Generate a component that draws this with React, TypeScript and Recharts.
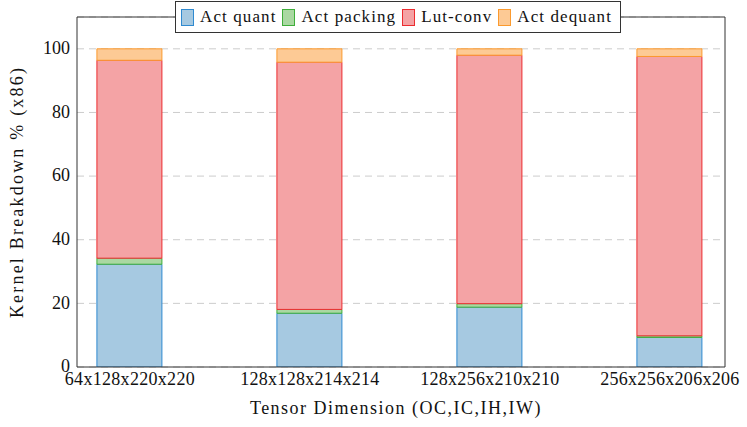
import {
  Bar,
  BarChart,
  CartesianGrid,
  ReferenceLine,
  XAxis,
  YAxis,
} from "recharts";

const dims = [
  "64x128x220x220",
  "128x128x214x214",
  "128x256x210x210",
  "256x256x206x206",
];
const actQuant = [32.3, 16.9, 18.8, 9.3];
const actPacking = [1.9, 1.2, 1.1, 0.5];
const lutConv = [62.2, 77.7, 78.1, 87.8];
const actDequant = [3.6, 4.2, 2.0, 2.4];

const series = [
  { key: "quant", name: "Act quant", fill: "#a6c9e1", stroke: "#2f8ad0" },
  { key: "packing", name: "Act packing", fill: "#aad8a2", stroke: "#3fae3a" },
  { key: "lut", name: "Lut-conv", fill: "#f4a3a5", stroke: "#ec2c30" },
  { key: "dequant", name: "Act dequant", fill: "#fdca95", stroke: "#fb9a2e" },
];

const data = dims.map((d, i) => ({
  x: i,
  dim: d,
  quant: actQuant[i],
  packing: actPacking[i],
  lut: lutConv[i],
  dequant: actDequant[i],
}));

const X_MIN = -0.294;
const X_MAX = 3.306;
const Y_MAX = 110;
const FONT = "'Liberation Serif', serif";

const LegendBox = () => (
  <div
    style={{
      position: "absolute",
      left: 175,
      top: 1,
      width: 446,
      height: 32,
      display: "flex",
      alignItems: "center",
      background: "#fff",
      border: "1px solid #333",
      padding: "0 0 0 5px",
      fontFamily: FONT,
      fontSize: 17,
      letterSpacing: 1.1,
      color: "#111",
      boxSizing: "border-box",
    }}
  >
    {series.map((s) => (
      <div
        key={s.key}
        style={{ display: "flex", alignItems: "center", marginRight: 6 }}
      >
        <span
          style={{
            width: 11,
            height: 15,
            background: s.fill,
            border: `1px solid ${s.stroke}`,
            marginRight: 6,
            display: "inline-block",
          }}
        />
        <span>{s.name}</span>
      </div>
    ))}
  </div>
);

const YLabel = (props: any) => {
  const vb = props.viewBox;
  const cx = 17;
  const cy = vb.y + vb.height / 2;
  return (
    <text
      x={cx}
      y={cy}
      transform={`rotate(-90, ${cx}, ${cy})`}
      textAnchor="middle"
      dominantBaseline="central"
      fontFamily={FONT}
      fontSize={18}
      letterSpacing={2.2}
      fill="#111"
    >
      Kernel Breakdown % (x86)
    </text>
  );
};

const XLabel = (props: any) => {
  const vb = props.viewBox;
  return (
    <text
      x={vb.x + vb.width / 2 - 5}
      y={408}
      textAnchor="middle"
      dominantBaseline="central"
      fontFamily={FONT}
      fontSize={18}
      letterSpacing={1.5}
      fill="#111"
    >
      Tensor Dimension (OC,IC,IH,IW)
    </text>
  );
};

export default function App() {
  return (
    <div style={{ position: "absolute", left: 0, top: 0, width: 747, height: 427 }}>
      <BarChart
        width={747}
        height={427}
        data={data}
        margin={{ top: 17, right: 22, left: 0, bottom: 0 }}
      >
        <CartesianGrid
          vertical={false}
          stroke="#cccccc"
          strokeDasharray="7 5"
        />
        <XAxis
          dataKey="x"
          type="number"
          domain={[X_MIN, X_MAX]}
          ticks={[0, 1, 2, 3]}
          tickFormatter={(v: number) => dims[v]}
          height={60}
          tickLine={false}
          tickSize={5}
          tickMargin={0}
          stroke="#333"
          tick={{ fontFamily: FONT, fontSize: 18, fill: "#111", letterSpacing: 0.3 }}
          label={<XLabel />}
          allowDataOverflow
        />
        <YAxis
          domain={[0, Y_MAX]}
          ticks={[0, 20, 40, 60, 80, 100]}
          width={77}
          tickLine={false}
          tickSize={5}
          tickMargin={2}
          stroke="#333"
          tick={{ fontFamily: FONT, fontSize: 18, fill: "#111", dy: -1 }}
          label={<YLabel />}
          allowDataOverflow
        />
        {series.map((s) => (
          <Bar
            key={s.key}
            dataKey={s.key}
            name={s.name}
            stackId="a"
            barSize={65}
            fill={s.fill}
            stroke={s.stroke}
            strokeWidth={1}
            isAnimationActive={false}
          />
        ))}
        <ReferenceLine y={Y_MAX} stroke="#333" strokeWidth={1} />
        <ReferenceLine x={X_MAX} stroke="#333" strokeWidth={1} />
      </BarChart>
      <LegendBox />
    </div>
  );
}
